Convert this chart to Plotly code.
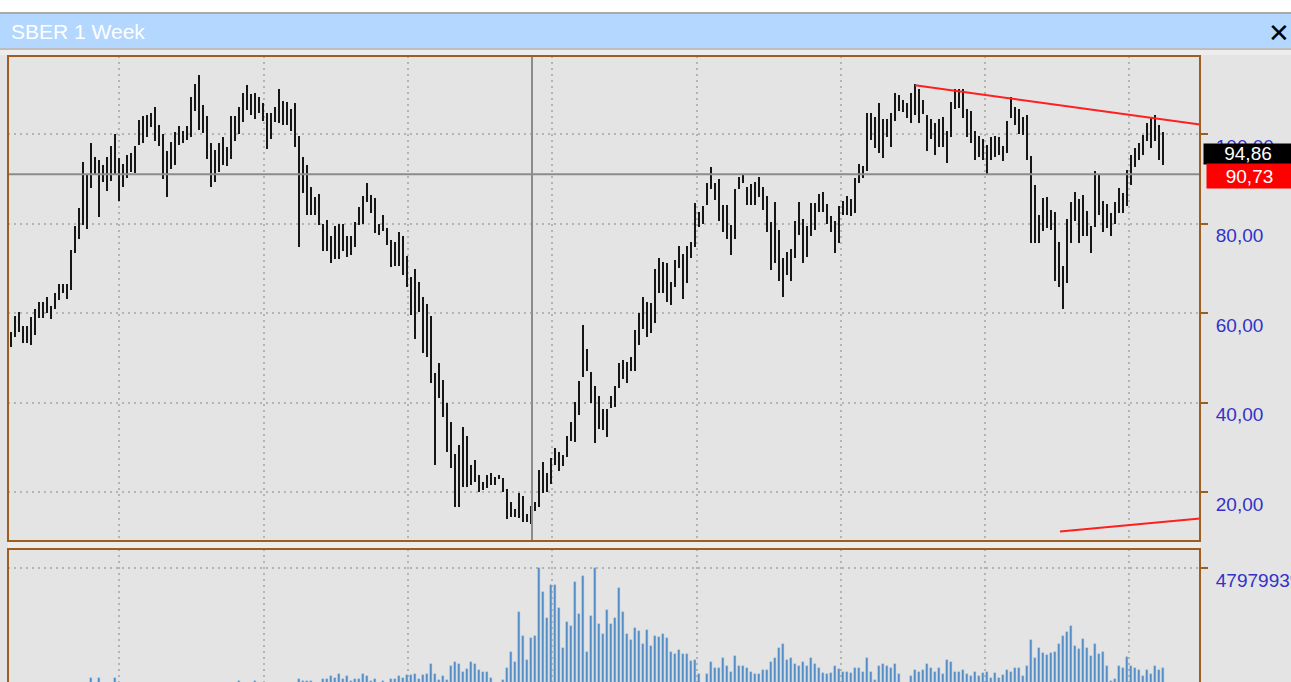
import plotly.graph_objects as go

W, H = 1291, 682

# ---------------- data (weekly bars) ----------------
highs = [
    55.8, 59.3, 60.3, 57.0, 57.0, 59.0, 60.8, 62.5, 62.5, 63.5,
    61.6, 64.4, 66.5, 66.5, 66.5, 74.1, 79.5, 83.5, 93.8, 91.0,
    97.9, 94.8, 94.2, 93.0, 94.8, 97.4, 100.1, 94.6, 93.4, 95.2,
    95.7, 97.4, 103.1, 104.1, 104.2, 104.6, 106.0, 102.0, 100.1, 96.1,
    98.3, 100.5, 101.9, 100.7, 101.9, 108.2, 111.2, 113.2, 106.5, 104.1,
    97.9, 96.4, 97.9, 99.3, 97.0, 104.1, 104.1, 106.0, 109.1, 111.0,
    108.9, 109.1, 108.3, 106.9, 104.6, 104.8, 106.0, 110.0, 107.4, 107.1,
    105.6, 106.9, 99.6, 94.8, 93.0, 88.1, 86.0, 86.7, 79.9, 80.8,
    77.3, 79.5, 80.0, 80.0, 77.3, 77.3, 80.4, 83.6, 86.2, 89.0,
    86.4, 85.8, 80.0, 81.8, 79.1, 76.3, 75.9, 78.2, 77.3, 72.8,
    68.0, 69.8, 67.0, 63.5, 62.0, 59.4, 46.5, 48.8, 45.0, 39.8,
    35.7, 28.6, 30.5, 34.5, 32.5, 26.0, 27.2, 23.8, 22.3, 23.8,
    24.2, 23.3, 23.8, 23.1, 20.6, 17.8, 16.3, 19.7, 19.1, 15.1,
    16.8, 17.8, 24.9, 26.8, 24.2, 27.5, 29.8, 29.0, 28.3, 32.5,
    35.7, 40.2, 44.7, 57.3, 51.9, 46.9, 43.7, 41.5, 38.5, 38.5,
    41.5, 43.7, 48.8, 49.6, 49.1, 50.1, 56.2, 59.9, 63.5, 62.5,
    62.2, 69.8, 72.4, 71.5, 71.1, 67.0, 71.8, 75.0, 73.2, 75.0,
    75.9, 84.5, 82.6, 84.0, 89.0, 92.6, 89.0, 89.9, 84.1, 84.1,
    79.7, 87.6, 90.3, 90.8, 88.1, 88.8, 89.3, 90.3, 88.1, 86.1,
    80.4, 84.9, 78.5, 72.4, 73.7, 74.2, 80.6, 84.9, 80.9, 79.4,
    84.5, 84.5, 86.7, 87.1, 84.4, 81.7, 80.6, 84.0, 85.0, 86.2,
    85.4, 90.2, 93.3, 92.8, 104.6, 104.6, 103.9, 106.9, 103.3, 103.3,
    104.6, 109.1, 108.7, 107.7, 106.9, 109.2, 111.2, 110.0, 107.7, 104.2,
    103.3, 102.4, 103.3, 103.7, 100.7, 107.2, 110.0, 110.0, 110.0, 105.5,
    105.2, 100.7, 99.6, 98.8, 97.5, 99.3, 99.6, 99.3, 97.3, 103.0,
    108.2, 106.1, 105.5, 103.7, 104.2, 95.1, 88.6, 81.9, 85.6, 86.0,
    83.0, 82.6, 75.9, 70.4, 80.9, 84.9, 87.1, 85.4, 86.4, 82.9,
    79.4, 91.8, 91.1, 85.1, 84.4, 82.3, 84.9, 87.9, 86.9, 92.0,
    95.3, 96.8, 97.9, 99.8, 102.5, 103.5, 104.2, 102.0, 100.5,
]
lows = [
    52.5, 54.7, 55.8, 53.2, 53.4, 52.8, 55.1, 58.8, 58.8, 59.9,
    58.7, 61.0, 62.9, 64.4, 63.1, 65.1, 73.5, 76.5, 79.7, 78.8,
    87.9, 90.8, 81.5, 89.3, 87.3, 89.6, 91.0, 85.1, 88.2, 90.1,
    91.4, 91.2, 97.5, 98.1, 99.3, 101.6, 98.5, 97.3, 89.9, 86.0,
    92.2, 93.1, 97.5, 97.9, 98.7, 99.3, 105.2, 100.9, 100.3, 94.4,
    88.2, 89.3, 91.6, 93.1, 92.8, 94.4, 98.5, 100.0, 102.6, 105.4,
    104.2, 103.4, 104.6, 102.8, 96.6, 98.9, 102.7, 102.4, 102.0, 102.0,
    100.7, 97.0, 74.8, 86.8, 81.9, 81.9, 81.9, 79.7, 73.9, 73.9,
    71.1, 72.1, 72.1, 73.9, 72.6, 73.0, 74.8, 79.7, 80.0, 84.9,
    82.4, 77.8, 77.4, 78.4, 75.2, 70.2, 70.5, 70.4, 68.5, 65.7,
    59.6, 54.2, 60.3, 51.1, 50.2, 44.4, 26.0, 40.9, 36.8, 29.0,
    25.3, 16.7, 16.7, 21.2, 21.2, 21.6, 22.3, 19.9, 20.4, 20.8,
    21.6, 21.6, 22.8, 19.9, 13.9, 14.5, 14.5, 14.1, 13.2, 13.4,
    12.9, 15.8, 16.7, 19.7, 19.9, 21.9, 26.0, 24.8, 25.7, 27.9,
    31.4, 31.2, 37.2, 45.8, 47.1, 39.8, 30.9, 34.0, 33.9, 32.4,
    38.7, 38.9, 43.2, 45.2, 44.3, 47.1, 47.1, 52.8, 56.4, 54.6,
    55.6, 57.8, 64.4, 64.4, 62.5, 61.8, 65.9, 70.0, 63.1, 66.6,
    72.2, 74.8, 79.3, 79.9, 84.1, 87.6, 85.3, 80.6, 78.0, 76.5,
    73.0, 76.5, 87.6, 89.0, 84.1, 84.1, 84.1, 86.0, 83.0, 78.0,
    69.5, 71.2, 67.2, 63.6, 68.5, 67.2, 72.2, 77.4, 71.2, 72.6,
    77.2, 78.5, 82.6, 82.6, 79.9, 78.2, 73.5, 75.7, 82.0, 82.0,
    81.6, 82.3, 89.1, 90.1, 91.8, 98.7, 96.8, 95.8, 94.6, 99.4,
    97.2, 103.0, 105.2, 105.0, 103.5, 102.5, 104.2, 102.5, 104.5, 96.3,
    98.8, 95.3, 97.2, 97.2, 93.6, 99.3, 105.5, 105.7, 103.5, 99.3,
    98.1, 94.3, 94.9, 94.2, 91.1, 94.3, 94.9, 95.3, 94.0, 95.8,
    103.5, 102.0, 100.0, 99.8, 94.2, 75.7, 75.7, 75.7, 78.4, 78.9,
    78.5, 67.2, 65.7, 61.0, 66.8, 75.7, 80.6, 75.7, 77.1, 77.2,
    73.5, 79.3, 81.9, 78.0, 78.9, 77.1, 80.0, 82.4, 82.4, 83.8,
    88.6, 92.6, 94.3, 95.3, 98.5, 96.8, 98.5, 94.3, 93.1,
]
volumes_mln = [
    9.8, 11.2, 10.5, 12.1, 9.4, 10.9, 11.8, 12.6, 10.2, 9.9,
    11.5, 12.9, 13.4, 12.2, 11.0, 14.6, 15.1, 14.2, 15.8, 15.4,
    17.4, 15.2, 17.4, 14.8, 15.3, 14.1, 17.4, 14.5, 13.2, 12.8,
    13.9, 12.4, 11.7, 13.1, 14.6, 12.9, 13.5, 15.0, 14.2, 15.6,
    13.8, 12.7, 13.3, 12.1, 11.9, 13.6, 15.2, 14.9, 15.5, 14.0,
    13.4, 14.7, 12.6, 13.0, 12.3, 13.8, 14.4, 16.5, 14.1, 13.6,
    15.0, 16.5, 14.3, 13.7, 15.4, 14.8, 13.2, 14.0, 13.5, 15.1,
    14.6, 15.8, 16.9, 16.5, 16.5, 16.5, 15.5, 15.8, 16.9, 16.9,
    17.9, 17.4, 18.5, 16.9, 17.9, 16.4, 16.9, 16.9, 18.5, 17.9,
    16.5, 16.9, 15.6, 16.5, 15.9, 16.9, 16.9, 17.9, 17.4, 18.0,
    18.0, 18.5, 16.9, 18.0, 18.5, 21.3, 18.5, 16.7, 17.9, 16.7,
    20.6, 21.8, 21.3, 19.0, 19.7, 21.8, 21.1, 19.4, 19.0, 19.0,
    17.4, 15.7, 15.2, 16.7, 20.2, 24.6, 21.8, 35.8, 29.0, 22.3,
    28.5, 29.0, 47.9, 41.4, 34.1, 43.2, 43.2, 36.9, 25.8, 33.0,
    31.8, 44.2, 35.2, 45.8, 24.6, 34.6, 47.979939, 32.4, 29.6, 36.3,
    32.4, 33.9, 42.5, 35.8, 29.6, 27.9, 31.2, 30.5, 26.8, 30.7,
    26.2, 29.0, 28.6, 29.5, 28.4, 24.6, 23.9, 25.1, 23.9, 23.9,
    21.9, 22.3, 18.4, 15.0, 18.4, 21.8, 20.2, 20.2, 23.0, 20.6,
    19.0, 23.4, 20.6, 20.6, 20.2, 19.0, 18.4, 18.4, 19.5, 19.5,
    21.8, 23.0, 25.8, 26.8, 22.3, 23.0, 21.1, 20.6, 21.8, 20.6,
    23.0, 21.1, 20.2, 18.8, 18.3, 18.8, 20.6, 19.7, 19.0, 19.0,
    18.6, 20.2, 20.2, 19.0, 23.0, 19.0, 16.7, 20.6, 21.3, 20.6,
    20.2, 21.3, 18.3, 15.4, 14.8, 17.9, 19.5, 19.1, 19.5, 21.2,
    20.2, 19.0, 20.2, 18.3, 22.3, 21.8, 19.0, 19.0, 19.5, 18.3,
    17.9, 19.0, 17.9, 18.6, 19.0, 17.4, 18.8, 17.4, 18.0, 19.5,
    19.0, 20.2, 20.2, 17.9, 20.6, 27.9, 23.0, 25.8, 24.2, 23.6,
    24.2, 24.6, 26.8, 29.0, 30.1, 31.8, 26.2, 25.3, 28.1, 25.8,
    23.5, 26.8, 24.1, 24.6, 20.7, 16.4, 16.9, 20.7, 20.2, 23.1,
    20.7, 20.2, 19.6, 17.9, 19.6, 18.5, 20.7, 19.6, 20.2,
]
bar_index = list(range(len(highs)))

grid_bars = [27, 63.25, 99.25, 135.25, 171.5, 207.5, 243.5, 279.5]
price_ticks = [20, 40, 60, 80, 100]
price_tick_text = ["20,00", "40,00", "60,00", "80,00", "100,00"]
volume_max = 47979939
last_price_text = "94,86"
cross_price_text = "90,73"
cross_bar = 130.25
cross_price = 91.0
trend_up_x = [226, 297.25]
trend_up_y = [110.9, 102.1]
trend_dn_x = [262.25, 297.25]
trend_dn_y = [11.2, 14.1]

# ---------------- styling ----------------
BROWN = "#9E5E1F"
BG = "#E4E4E4"
GRID = "#B4B4B4"
GRID_DASH = "2px,4px"
LABEL_BLUE = "#3232C8"
FONT = "Liberation Sans"


def px_x(x):
    return x / W


def px_y(y):
    return 1 - y / H


x_range = [-0.75, 297.25]
price_range = [9.05, 117.43]
volume_range = [16.18e6, 53.28e6]

fig = go.Figure()

fig.add_trace(go.Bar(
    x=bar_index,
    y=[h - l for h, l in zip(highs, lows)],
    base=lows,
    width=0.62,
    marker=dict(color="#161616", line=dict(width=0)),
    xaxis="x", yaxis="y",
    hoverinfo="skip",
))
fig.add_trace(go.Scatter(
    x=trend_up_x, y=trend_up_y, mode="lines",
    line=dict(color="#FF1F1F", width=2),
    xaxis="x", yaxis="y", hoverinfo="skip",
))
fig.add_trace(go.Scatter(
    x=trend_dn_x, y=trend_dn_y, mode="lines",
    line=dict(color="#FF1F1F", width=2),
    xaxis="x", yaxis="y", hoverinfo="skip",
))
fig.add_trace(go.Bar(
    x=bar_index,
    y=[v * 1e6 for v in volumes_mln],
    width=0.5,
    marker=dict(color="#4F8AC3", line=dict(width=0.4, color="#8DB6DD")),
    xaxis="x2", yaxis="y2",
    hoverinfo="skip",
))

shapes = [
    # top white strip and window chrome
    dict(type="rect", xref="paper", yref="paper", x0=0, x1=1, y0=px_y(12), y1=1,
         fillcolor="#FFFFFF", line=dict(width=0), layer="below"),
    dict(type="rect", xref="paper", yref="paper", x0=0, x1=1, y0=px_y(14), y1=px_y(12),
         fillcolor="#A9A9A9", line=dict(width=0), layer="below"),
    dict(type="rect", xref="paper", yref="paper", x0=0, x1=1, y0=px_y(48), y1=px_y(14),
         fillcolor="#B3D7FF", line=dict(width=0), layer="below"),
    dict(type="rect", xref="paper", yref="paper", x0=0, x1=1, y0=px_y(50), y1=px_y(48),
         fillcolor="#BDBDBD", line=dict(width=0), layer="below"),
    dict(type="rect", xref="paper", yref="paper", x0=0, x1=1, y0=px_y(55), y1=px_y(50),
         fillcolor="#EDEDED", line=dict(width=0), layer="below"),
    dict(type="rect", xref="paper", yref="paper", x0=px_x(8), x1=px_x(1200), y0=px_y(548), y1=px_y(542),
         fillcolor="#ECECEC", line=dict(width=0), layer="below"),
    # crosshair
    dict(type="line", xref="x", yref="y domain", x0=cross_bar, x1=cross_bar, y0=0, y1=1,
         line=dict(color="#8C8C8C", width=2), layer="above"),
    dict(type="line", xref="x domain", yref="y", x0=0, x1=1, y0=cross_price, y1=cross_price,
         line=dict(color="#8C8C8C", width=2), layer="above"),
    # panel frames
    dict(type="rect", xref="paper", yref="paper", x0=px_x(8), x1=px_x(1200), y0=px_y(541), y1=px_y(56),
         line=dict(color=BROWN, width=2), fillcolor="rgba(0,0,0,0)", layer="above"),
    dict(type="path", xref="paper", yref="paper",
         path=f"M {px_x(8)},{px_y(684)} L {px_x(8)},{px_y(549)} L {px_x(1200)},{px_y(549)} L {px_x(1200)},{px_y(684)}",
         line=dict(color=BROWN, width=2), layer="above"),
]

annotations = [
    dict(text="SBER 1 Week", xref="paper", yref="paper", x=px_x(9), y=px_y(32),
         xanchor="left", yanchor="middle", showarrow=False,
         font=dict(family=FONT, size=21, color="#FFFFFF")),
    dict(text="<b>✕</b>", xref="paper", yref="paper", x=px_x(1279), y=px_y(33),
         xanchor="center", yanchor="middle", showarrow=False,
         font=dict(family="DejaVu Sans", size=26, color="#000000")),
    dict(text=last_price_text, xref="paper", yref="paper", x=px_x(1203), y=px_y(143),
         xanchor="left", yanchor="top", showarrow=False, width=88, height=20, borderpad=0,
         bgcolor="#000000", align="center", valign="bottom",
         font=dict(family=FONT, size=19, color="#FFFFFF")),
    dict(text=cross_price_text, xref="paper", yref="paper", x=px_x(1206), y=px_y(163),
         xanchor="left", yanchor="top", showarrow=False, width=85, height=24, borderpad=0,
         bgcolor="#FF0000", align="center", valign="middle",
         font=dict(family=FONT, size=19, color="#FFFFFF")),
]

axis_common = dict(showgrid=True, gridcolor=GRID, griddash=GRID_DASH, gridwidth=1.5,
                   zeroline=False, showline=False, fixedrange=True)

fig.update_layout(
    width=W, height=H,
    margin=dict(l=0, r=0, t=0, b=0, autoexpand=False),
    paper_bgcolor=BG, plot_bgcolor=BG,
    showlegend=False,
    barmode="overlay",
    bargap=0,
    xaxis=dict(domain=[px_x(8), px_x(1200)], range=x_range, anchor="y",
               tickvals=grid_bars, showticklabels=False, ticks="", **axis_common),
    yaxis=dict(domain=[px_y(541), px_y(56)], range=price_range, anchor="x", side="right",
               tickvals=price_ticks, ticktext=price_tick_text,
               ticks="outside", ticklen=7, tickwidth=2, tickcolor=BROWN,
               ticklabelshift=12, ticklabelstandoff=4,
               tickfont=dict(family=FONT, size=19, color=LABEL_BLUE),
               automargin=False, **axis_common),
    xaxis2=dict(domain=[px_x(8), px_x(1200)], range=x_range, anchor="y2",
                tickvals=grid_bars, showticklabels=False, ticks="", **axis_common),
    yaxis2=dict(domain=[0, px_y(549)], range=volume_range, anchor="x2", side="right",
                tickvals=[volume_max], ticktext=[str(volume_max)],
                ticks="outside", ticklen=7, tickwidth=2, tickcolor=BROWN,
                ticklabelshift=12, ticklabelstandoff=4,
                tickfont=dict(family=FONT, size=19, color=LABEL_BLUE),
                automargin=False, **axis_common),
    shapes=shapes,
    annotations=annotations,
)

fig.write_html(
    "out.html",
    config={"displayModeBar": False},
    post_script="document.body.style.margin='0';document.body.style.overflow='hidden';",
)
